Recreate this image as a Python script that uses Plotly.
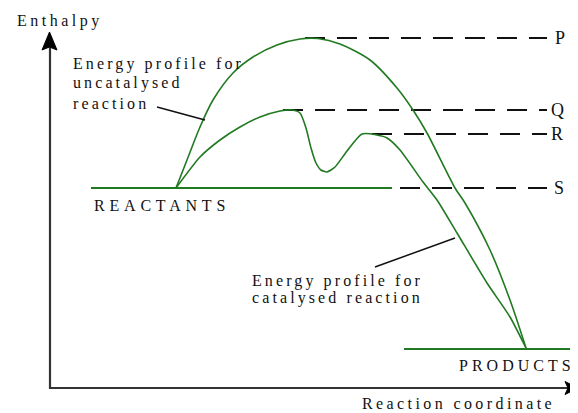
import plotly.graph_objects as go

# ---------------- data (diagram coordinates: x = reaction coordinate, y = screen-down enthalpy scale) -------------
uncat_x = [176, 187, 200, 213, 233, 253, 277, 300, 318, 340, 370, 397, 413, 427, 455, 465, 490, 510, 526]
uncat_y = [188, 160, 127, 100, 73, 57, 45, 39, 38.5, 44, 60, 88, 110, 133, 188, 203, 250, 300, 348]

cat_x = [176, 200, 220, 240, 260, 280, 292, 300, 306, 311, 316, 321, 327, 335, 347, 362, 377, 387, 400, 423, 437, 457, 487, 510, 526]
cat_y = [188, 157, 140, 127, 117, 111, 110, 113, 128, 148, 163, 170, 172, 167, 151, 134, 135, 138, 150, 182, 200, 233, 283, 317, 348]

level_names = ["P", "Q", "R", "S"]
level_y = [38, 110, 134, 188]
level_dash_start = [305, 283, 372, 400]
level_dash_end = 547
level_label_x = [560, 557, 557, 559]

reactant_line_x = [91, 392]
reactant_y = 188
product_line_x = [404, 578]
product_y = 349

callout_uncat_x = [157, 205]
callout_uncat_y = [107, 120]
callout_cat_x = [375, 455]
callout_cat_y = [267, 238]

GREEN = "#217a21"
DARK = "#111111"
AX = "#333333"
FONT = "Liberation Serif, DejaVu Serif, serif"

fig = go.Figure()

# axes (drawn as lines with arrow heads)
fig.add_trace(go.Scatter(x=[50, 50], y=[389, 46], mode="lines",
                         line=dict(color=AX, width=2.2), hoverinfo="skip"))
fig.add_trace(go.Scatter(x=[49, 569], y=[388, 388], mode="lines",
                         line=dict(color=AX, width=2.2), hoverinfo="skip"))
fig.add_trace(go.Scatter(x=[49.5, 42, 49.5, 57, 49.5], y=[32, 50, 47, 50, 32], mode="lines",
                         fill="toself", fillcolor="black", line=dict(color="black", width=1),
                         hoverinfo="skip"))
fig.add_trace(go.Scatter(x=[578, 565, 568, 565, 578], y=[388, 381.5, 388, 394.5, 388], mode="lines",
                         fill="toself", fillcolor="black", line=dict(color="black", width=1),
                         hoverinfo="skip"))

# dashed level lines
for ly, xs in zip(level_y, level_dash_start):
    fig.add_trace(go.Scatter(x=[xs, level_dash_end], y=[ly, ly], mode="lines",
                             line=dict(color=DARK, width=2, dash="20px,12px"), hoverinfo="skip"))

# reactant / product levels
fig.add_trace(go.Scatter(x=reactant_line_x, y=[reactant_y, reactant_y], mode="lines",
                         line=dict(color=GREEN, width=1.8), hoverinfo="skip"))
fig.add_trace(go.Scatter(x=product_line_x, y=[product_y, product_y], mode="lines",
                         line=dict(color=GREEN, width=1.8), hoverinfo="skip"))

# energy profiles
fig.add_trace(go.Scatter(x=uncat_x, y=uncat_y, mode="lines",
                         line=dict(color=GREEN, width=1.6, shape="spline", smoothing=0.8),
                         hoverinfo="skip"))
fig.add_trace(go.Scatter(x=cat_x, y=cat_y, mode="lines",
                         line=dict(color=GREEN, width=1.6, shape="spline", smoothing=0.6),
                         hoverinfo="skip"))

# callout lines
fig.add_trace(go.Scatter(x=callout_uncat_x, y=callout_uncat_y, mode="lines",
                         line=dict(color=DARK, width=1.5), hoverinfo="skip"))
fig.add_trace(go.Scatter(x=callout_cat_x, y=callout_cat_y, mode="lines",
                         line=dict(color=DARK, width=1.5), hoverinfo="skip"))


def spaced(t, sp):
    return f'<span style="letter-spacing:{sp}px">{t}</span>'


def label(text, x, y, size=16, sp=3.2, anchor="left"):
    fig.add_annotation(x=x, y=y, xref="x", yref="y", text=spaced(text, sp), showarrow=False,
                       xanchor=anchor, yanchor="middle",
                       font=dict(family=FONT, size=size, color=DARK))


label("Enthalpy", 15, 21, 16, 3.5)
label("Energy profile for", 71, 64, 16, 3.1)
label("uncatalysed", 71, 83, 16, 3.1)
label("reaction", 71, 103, 16, 3.1)
label("Energy profile for", 250, 280.5, 16, 3.1)
label("catalysed reaction", 250, 297.5, 16, 3.1)
label("REACTANTS", 92, 205, 16, 4.8)
label("PRODUCTS", 457, 365, 16, 4.0)
label("Reaction coordinate", 360, 403, 16, 3.4)

for name, ly, lx in zip(level_names, level_y, level_label_x):
    fig.add_annotation(x=lx, y=ly, xref="x", yref="y", text=name, showarrow=False,
                       xanchor="center", yanchor="middle",
                       font=dict(family=FONT, size=18, color=DARK))

# the page body has an 8px margin: size the figure and ranges so diagram units equal page pixels
fig.update_layout(
    width=570, height=405,
    margin=dict(l=0, r=0, t=0, b=0),
    paper_bgcolor="white", plot_bgcolor="white",
    showlegend=False,
    xaxis=dict(range=[8, 578], visible=False, fixedrange=True),
    yaxis=dict(range=[413, 8], visible=False, fixedrange=True),
)

fig.write_html("out.html")
